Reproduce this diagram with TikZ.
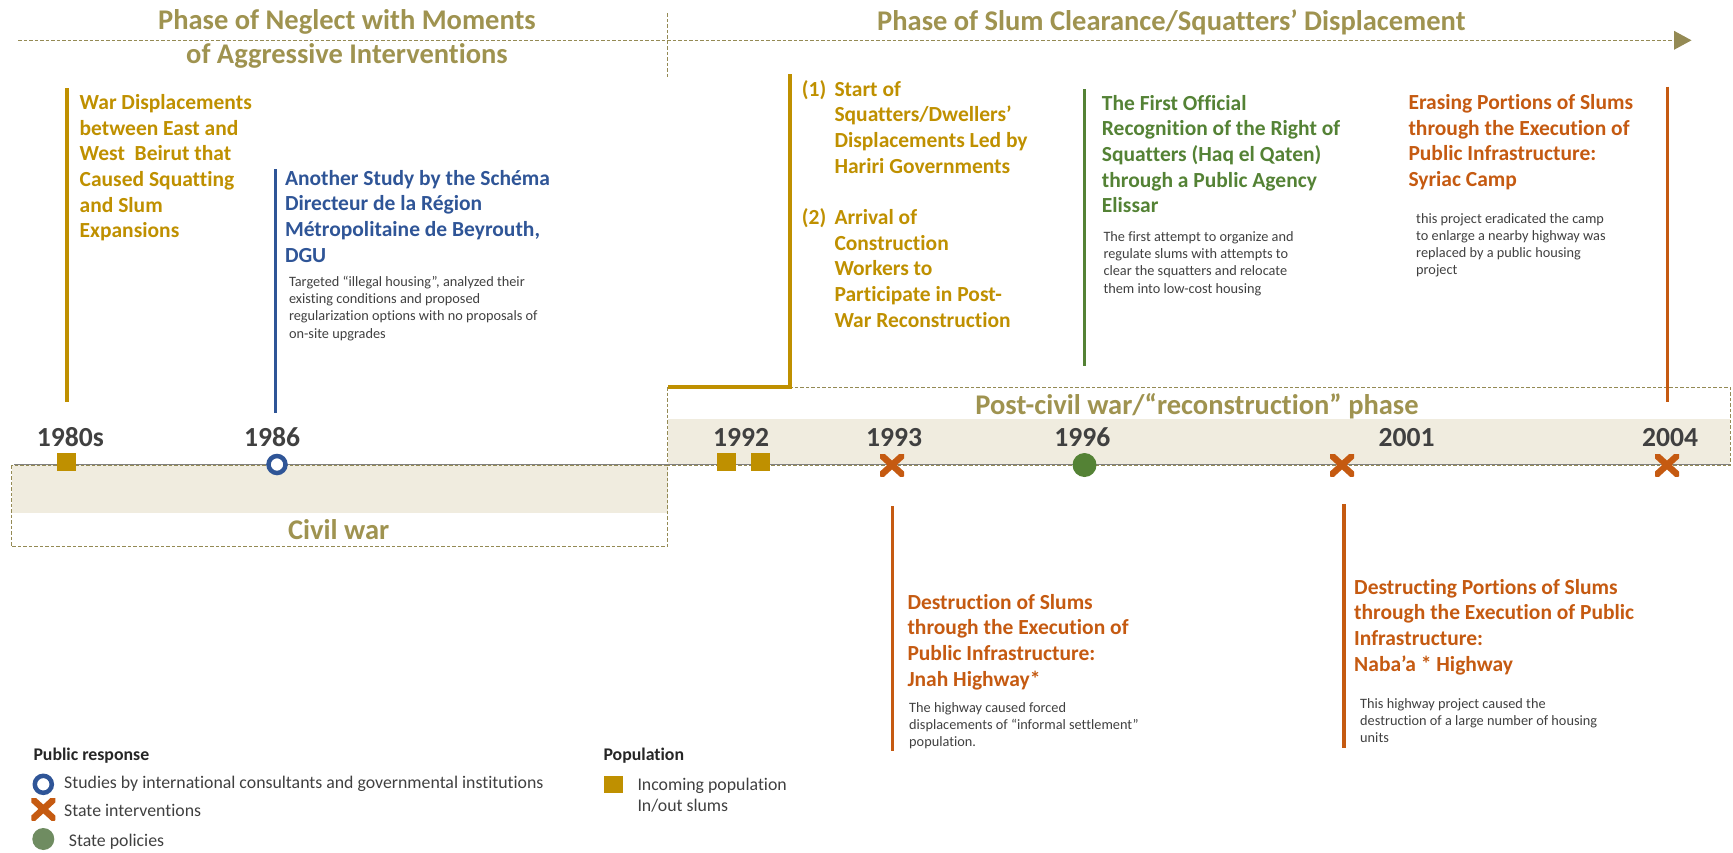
\documentclass[tikz,border=0pt]{standalone}
\usepackage{fontspec}
\setmainfont{Carlito}[Ligatures={TeX,NoCommon}]
\usetikzlibrary{arrows.meta}

\definecolor{gold}{HTML}{BF9000}
\definecolor{olive}{HTML}{9F9350}
\definecolor{olivedash}{HTML}{948A54}
\definecolor{studyblue}{HTML}{2F5597}
\definecolor{policygreen}{HTML}{548235}
\definecolor{actorange}{HTML}{C55A11}
\definecolor{beige}{HTML}{F0ECDF}
\definecolor{inkgray}{HTML}{404040}
\definecolor{headink}{HTML}{262626}
\definecolor{axisgray}{HTML}{808080}
\definecolor{legendgreen}{HTML}{6F8C61}

% left-aligned stack of lines; the box baseline is the first line's baseline
\newcommand\stk[1]{\vtop{\lineskiplimit=-\maxdimen\halign{##\hfil\cr#1\crcr}}}
% centred stack of lines
\newcommand\cstk[1]{\vtop{\lineskiplimit=-\maxdimen\halign{\hfil##\hfil\cr#1\crcr}}}
% hanging number column for the numbered event list
\newcommand\numl[1]{\hbox to 32.6pt{#1\hfil}}

\tikzset{
  heading/.style={font=\bfseries\fontsize{28.5}{34}\selectfont, text=olive, inner sep=0, anchor=base},
  phaselbl/.style={font=\bfseries\fontsize{28.5}{34}\selectfont, text=olive, inner sep=0, anchor=base},
  yearlbl/.style={font=\bfseries\fontsize{27.6}{32}\selectfont, text=inkgray, inner sep=0, anchor=base},
  eventtxt/.style={font=\bfseries\fontsize{21.5}{25.7}\selectfont, inner sep=0, anchor=base west},
  notetxt/.style={font=\fontsize{14.3}{17.1}\selectfont, text=inkgray, inner sep=0, anchor=base west},
  legendhead/.style={font=\bfseries\fontsize{17.8}{21.7}\selectfont, text=headink, inner sep=0, anchor=base west},
  legendtxt/.style={font=\fontsize{17.8}{21.7}\selectfont, text=inkgray, inner sep=0, anchor=base west},
  phasedash/.style={draw=olivedash, line width=1pt, dash pattern=on 3.5pt off 2pt},
  stem/.style={line width=3.5pt},
  popsq/.style={rectangle, fill=gold, minimum width=19pt, minimum height=18pt, inner sep=0},
  studyring/.style={circle, draw=studyblue, fill=white, line width=4.5pt, minimum size=17pt, inner sep=0},
  policydot/.style={circle, fill=#1, minimum size=24pt, inner sep=0},
  xmark/.style={rectangle, minimum width=24pt, minimum height=22pt, inner sep=0,
    path picture={\draw[actorange, line width=6.5pt]
      (path picture bounding box.north west) -- (path picture bounding box.south east)
      (path picture bounding box.south west) -- (path picture bounding box.north east);}},
}

\begin{document}
\begin{tikzpicture}[x=1pt, y=-1pt]
\useasboundingbox (0,0) rectangle (1733,852);

% ---------- period bands ----------
\fill[beige] (11.5,465) rectangle (667.5,512.7);
\fill[beige] (667.5,419.3) rectangle (1730,465);
\draw[phasedash] (11.5,465) rectangle (667.5,546.7);
\draw[phasedash] (667.5,387) rectangle (1730,465);

% ---------- phase arrow at the top ----------
\coordinate (arrowstart) at (18,40.3);
\coordinate (arrowend) at (1691.5,40.3);
\draw[phasedash, -{Triangle[length=17.5pt, width=19pt, fill=olivedash, line width=0pt]}] (arrowstart) -- (arrowend);
\coordinate (splittop) at (667.5,13.3);
\coordinate (splitbot) at (667.5,77.3);
\draw[phasedash] (splittop) -- (splitbot);

\node[heading] (phaseA) at (347,29.3) {\cstk{Phase of Neglect with Moments\cr of Aggressive Interventions}};
\node[heading] (phaseB) at (1171.4,30) {Phase of Slum Clearance/Squatters’ Displacement};

% ---------- time axis ----------
\coordinate (axisL) at (14,464.5);
\coordinate (axisR) at (1730,464.5);
\draw[axisgray, line width=1.8pt] (axisL) -- (axisR);

\node[phaselbl] (civilwar) at (338.7,539) {Civil war};
\node[phaselbl] (postwar) at (1197,414.3) {Post-civil war/“reconstruction” phase};

% ---------- years ----------
\node[yearlbl] (y1980) at (70.4,446) {1980s};
\node[yearlbl] (y1986) at (272,446) {1986};
\node[yearlbl] (y1992) at (741,446) {1992};
\node[yearlbl] (y1993) at (894,446) {1993};
\node[yearlbl] (y1996) at (1082.4,446) {1996};
\node[yearlbl] (y2001) at (1406.6,446) {2001};
\node[yearlbl] (y2004) at (1670,446) {2004};

% ---------- stems ----------
\coordinate (s80a) at (67,88);     \coordinate (s80b) at (67,402);
\coordinate (s86a) at (275.4,169); \coordinate (s86b) at (275.4,413);
\coordinate (s92a) at (790,74.3);  \coordinate (s92b) at (790,387); \coordinate (s92c) at (668,387);
\coordinate (s96a) at (1084.3,89.3); \coordinate (s96b) at (1084.3,366);
\coordinate (s04a) at (1667.7,86.7); \coordinate (s04b) at (1667.7,402);
\coordinate (s93a) at (892.7,506); \coordinate (s93b) at (892.7,750.7);
\coordinate (s01a) at (1344,504);  \coordinate (s01b) at (1344,748.3);
\draw[stem, gold] (s80a) -- (s80b);
\draw[stem, studyblue] (s86a) -- (s86b);
\draw[stem, gold] (s92a) -- (s92b) -- (s92c);
\draw[stem, policygreen] (s96a) -- (s96b);
\draw[stem, actorange] (s04a) -- (s04b);
\draw[stem, actorange] (s93a) -- (s93b);
\draw[stem, actorange] (s01a) -- (s01b);

% ---------- markers on the axis ----------
\node[popsq] (m80) at (66.5,462) {};
\node[studyring] (m86) at (277,464.5) {};
\node[popsq] (m92a) at (726,462) {};
\node[popsq] (m92b) at (760,462) {};
\node[xmark] (m93) at (892,465) {};
\node[policydot=policygreen] (m96) at (1084.5,465) {};
\node[xmark] (m01) at (1342,465) {};
\node[xmark] (m04) at (1667,465) {};

% ---------- events ----------
\node[eventtxt, text=gold] (evWar) at (79.5,109.3)
  {\stk{War Displacements\cr between East and\cr West\ \ Beirut that\cr Caused Squatting\cr and Slum\cr Expansions}};

\node[eventtxt, text=studyblue] (evStudy) at (284.8,185)
  {\stk{Another Study by the Schéma\cr Directeur de la Région\cr Métropolitaine de Beyrouth,\cr DGU}};
\node[notetxt] (ntStudy) at (288.8,286.7)
  {\stk{Targeted “illegal housing”, analyzed their\cr existing conditions and proposed\cr regularization options with no proposals of\cr on-site upgrades}};

\node[eventtxt, text=gold] (evHariri) at (801.7,96)
  {\stk{\numl{(1)}Start of\cr \numl{}Squatters/Dwellers’\cr \numl{}Displacements Led by\cr \numl{}Hariri Governments\cr \cr
        \numl{(2)}Arrival of\cr \numl{}Construction\cr \numl{}Workers to\cr \numl{}Participate in Post-\cr \numl{}War Reconstruction}};

\node[eventtxt, text=policygreen] (evElissar) at (1101.7,110)
  {\stk{The First Official\cr Recognition of the Right of\cr Squatters (Haq el Qaten)\cr through a Public Agency\cr Elissar}};
\node[notetxt] (ntElissar) at (1103.3,241.7)
  {\stk{The first attempt to organize and\cr regulate slums with attempts to\cr clear the squatters and relocate\cr them into low-cost housing}};

\node[eventtxt, text=actorange] (evSyriac) at (1408.3,109.3)
  {\stk{Erasing Portions of Slums\cr through the Execution of\cr Public Infrastructure:\cr Syriac Camp}};
\node[notetxt] (ntSyriac) at (1416,223.3)
  {\stk{this project eradicated the camp\cr to enlarge a nearby highway was\cr replaced by a public housing\cr project}};

\node[eventtxt, text=actorange] (evJnah) at (907.3,609)
  {\stk{Destruction of Slums\cr through the Execution of\cr Public Infrastructure:\cr Jnah Highway*}};
\node[notetxt] (ntJnah) at (909,712.7)
  {\stk{The highway caused forced\cr displacements of “informal settlement”\cr population.}};

\node[eventtxt, text=actorange] (evNabaa) at (1354,594)
  {\stk{Destructing Portions of Slums\cr through the Execution of Public\cr Infrastructure:\cr Naba’a * Highway}};
\node[notetxt] (ntNabaa) at (1360,708.3)
  {\stk{This highway project caused the\cr destruction of a large number of housing\cr units}};

% ---------- legend ----------
\node[legendhead] (lgPublic) at (33.3,760) {Public response};
\node[studyring] (lgRing) at (43.3,784.3) {};
\node[legendtxt] (lgStudies) at (64,788.3) {Studies by international consultants and governmental institutions};
\node[xmark] (lgX) at (43.3,809) {};
\node[legendtxt] (lgInterv) at (64,816) {State interventions};
\node[policydot=legendgreen, minimum size=22pt] (lgDot) at (43.3,839) {};
\node[legendtxt] (lgPolicy) at (68.7,846.7) {State policies};

\node[legendhead] (lgPop) at (603.3,760.7) {Population};
\node[popsq, minimum width=19.3pt, minimum height=17pt] (lgSq) at (613.6,784.2) {};
\node[legendtxt] (lgIncoming) at (637.3,790) {\stk{Incoming population\cr In/out slums}};
\end{tikzpicture}
\end{document}
